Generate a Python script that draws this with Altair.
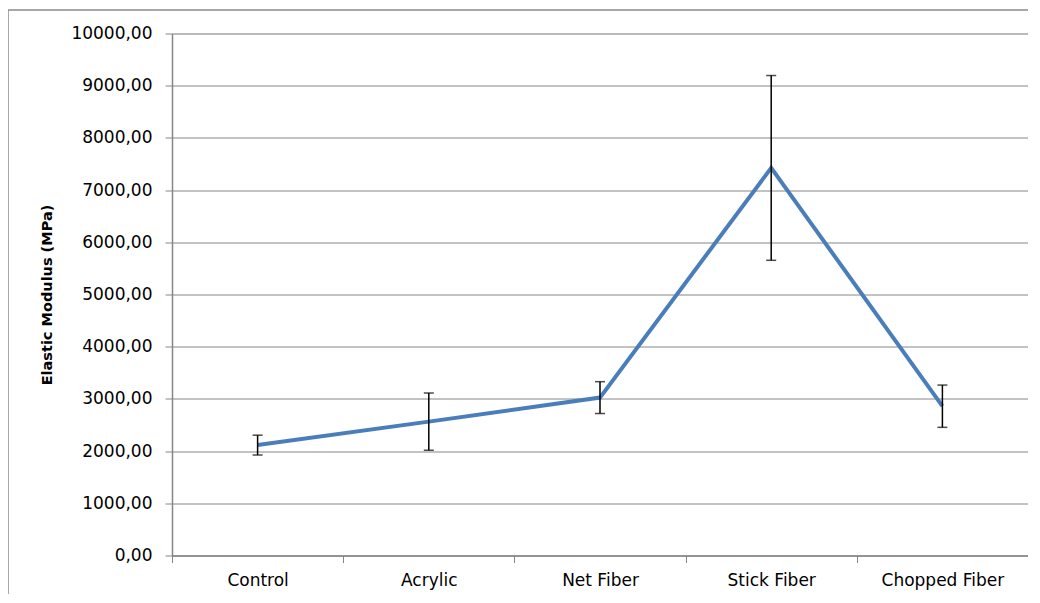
import altair as alt
import pandas as pd

categories = ["Control", "Acrylic", "Net Fiber", "Stick Fiber", "Chopped Fiber"]
means = [2115, 2565, 3025, 7425, 2860]
errors = [190, 548, 305, 1770, 405]
y_ticks = [0, 1000, 2000, 3000, 4000, 5000, 6000, 7000, 8000, 9000, 10000]

df = pd.DataFrame({
    "cat": categories,
    "mean": means,
    "lo": [m - e for m, e in zip(means, errors)],
    "hi": [m + e for m, e in zip(means, errors)],
})

GRAY = "#868686"
FONT = "DejaVu Sans"

x_enc = alt.X(
    "cat:N",
    sort=categories,
    title=None,
    scale=alt.Scale(type="band", paddingInner=0, paddingOuter=0),
    axis=alt.Axis(
        tickBand="extent", labelAngle=0, tickSize=7, tickColor=GRAY,
        domainColor=GRAY, domainWidth=1.5, labelFont=FONT, labelFontSize=17,
        labelColor="#000000", labelPadding=10, grid=False,
    ),
)
y_scale = alt.Scale(domain=[0, 10000], nice=False)
y_axis = alt.Axis(
    values=y_ticks,
    labelExpr="replace(format(datum.value, '.2f'), '.', ',')",
    title="Elastic Modulus (MPa)",
    titleFont=FONT, titleFontSize=14.5, titleFontWeight="bold", titleColor="#000000",
    titleX=-125, titleY=261, titleAngle=270, titleAlign="center", titleBaseline="middle",
    labelFont=FONT, labelFontSize=17, labelColor="#000000", labelPadding=13,
    tickSize=7, tickColor=GRAY, domainColor=GRAY, domainWidth=1.5,
    grid=True, gridColor=GRAY, gridWidth=1,
)

border = alt.Chart(alt.Data(values=[{"a": 1}])).mark_rect(
    fillOpacity=0, stroke="#8c8c8c", strokeWidth=1.5
).encode(
    x=alt.value(-164), x2=alt.value(1000), y=alt.value(-23.5), y2=alt.value(800)
)

line = alt.Chart(df).mark_line(color="#4A7EBB", strokeWidth=4).encode(
    x=x_enc,
    y=alt.Y("mean:Q", scale=y_scale, axis=y_axis),
)

rules = alt.Chart(df).mark_rule(color="#000000", strokeWidth=1.5).encode(
    x=alt.X("cat:N", sort=categories),
    y=alt.Y("lo:Q", scale=y_scale),
    y2="hi:Q",
)
cap_lo = alt.Chart(df).mark_tick(color="#000000", size=10, thickness=1.5).encode(
    x=alt.X("cat:N", sort=categories),
    y=alt.Y("lo:Q", scale=y_scale),
)
cap_hi = alt.Chart(df).mark_tick(color="#000000", size=10, thickness=1.5).encode(
    x=alt.X("cat:N", sort=categories),
    y=alt.Y("hi:Q", scale=y_scale),
)

chart = alt.layer(border, line, rules, cap_lo, cap_hi).properties(
    width=856,
    height=522,
    autosize=alt.AutoSizeParams(type="none"),
    padding={"left": 164, "top": 25.5, "right": 0, "bottom": 38},
).configure_view(stroke=None).configure(background="#ffffff")

chart.save("out.html", embed_options={"renderer": "svg", "actions": False})
